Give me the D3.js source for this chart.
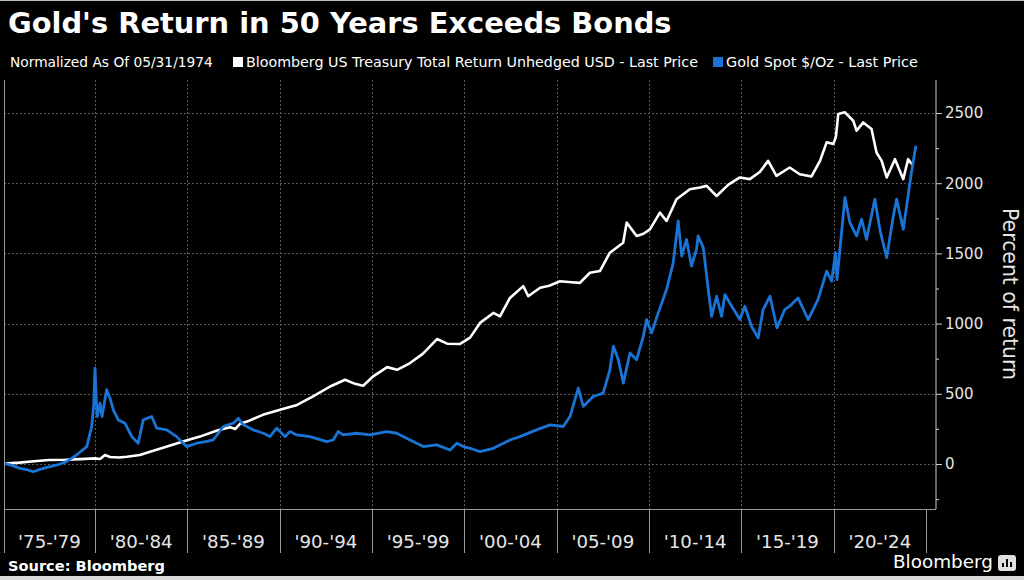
<!DOCTYPE html>
<html><head><meta charset="utf-8">
<script src="https://cdn.jsdelivr.net/npm/d3@7"></script>
<style>html,body{margin:0;padding:0;background:#fff;}svg{display:block;}</style>
</head><body>
<svg id="chart" width="1024" height="580"></svg>
<script>
// ---------- data ----------
const titleText = "Gold's Return in 50 Years Exceeds Bonds";
const subtitleText = "Normalized As Of 05/31/1974";
const seriesNames = ["Bloomberg US Treasury Total Return Unhedged USD - Last Price", "Gold Spot $/Oz - Last Price"];
const seriesColors = ["#ffffff", "#1a74d6"];
const periodStarts = [1975, 1980, 1985, 1990, 1995, 2000, 2005, 2010, 2015, 2020];
const periodLabels = ["'75-'79", "'80-'84", "'85-'89", "'90-'94", "'95-'99", "'00-'04", "'05-'09", "'10-'14", "'15-'19", "'20-'24"];
const yMajorTicks = [0, 500, 1000, 1500, 2000, 2500];
const yMinorTicks = [-250, 250, 750, 1250, 1750, 2250];

const treasuryYears = [1975.0, 1975.9, 1976.7, 1977.5, 1978.4, 1979.2, 1980.0, 1980.27, 1980.54, 1980.81, 1981.3, 1981.73, 1982.43, 1982.98, 1983.9, 1984.76, 1985.68, 1986.61, 1987.31, 1987.6, 1987.85, 1988.23, 1989.09, 1990.02, 1990.94, 1991.81, 1992.73, 1993.54, 1994.08, 1994.52, 1995.06, 1995.82, 1996.36, 1997.06, 1997.76, 1998.52, 1999.07, 1999.77, 2000.31, 2000.85, 2001.57, 2001.93, 2002.47, 2003.19, 2003.46, 2004.1, 2004.6, 2005.18, 2005.8, 2006.26, 2006.8, 2007.34, 2007.88, 2008.6, 2008.79, 2009.33, 2009.7, 2010.05, 2010.59, 2010.95, 2011.49, 2012.21, 2012.76, 2013.12, 2013.66, 2014.3, 2014.92, 2015.46, 2016.0, 2016.45, 2016.9, 2017.62, 2018.16, 2018.8, 2019.26, 2019.62, 2019.98, 2020.12, 2020.25, 2020.61, 2021.06, 2021.24, 2021.6, 2022.05, 2022.32, 2022.6, 2022.87, 2023.32, 2023.77, 2024.03, 2024.3];
const treasuryValues = [2, 10, 20, 28, 30, 35, 40, 36, 64, 50, 46, 52, 64, 88, 124, 160, 195, 238, 262, 250, 286, 302, 350, 386, 421, 481, 552, 600, 571, 557, 624, 690, 671, 719, 786, 890, 857, 855, 900, 1005, 1076, 1052, 1183, 1267, 1195, 1255, 1270, 1302, 1295, 1290, 1362, 1374, 1505, 1576, 1719, 1624, 1640, 1671, 1790, 1731, 1886, 1957, 1969, 1981, 1909, 1990, 2041, 2029, 2080, 2159, 2052, 2112, 2064, 2048, 2159, 2291, 2279, 2330, 2493, 2505, 2445, 2374, 2433, 2386, 2219, 2159, 2041, 2171, 2029, 2171, 2124];

const goldYears = [1975.02, 1975.5, 1975.94, 1976.3, 1976.66, 1977.1, 1977.56, 1978.0, 1978.45, 1979.0, 1979.55, 1979.82, 1979.93, 1980.0, 1980.06, 1980.12, 1980.27, 1980.38, 1980.63, 1980.81, 1980.99, 1981.26, 1981.62, 1981.99, 1982.34, 1982.61, 1983.07, 1983.34, 1983.88, 1984.42, 1984.96, 1985.51, 1986.0, 1986.4, 1986.95, 1987.49, 1987.76, 1988.03, 1988.57, 1989.11, 1989.47, 1989.84, 1990.29, 1990.56, 1990.92, 1991.64, 1992.55, 1992.9, 1993.17, 1993.44, 1994.17, 1994.89, 1995.8, 1996.34, 1997.06, 1997.78, 1998.5, 1999.23, 1999.59, 1999.95, 2000.31, 2000.85, 2001.57, 2002.47, 2003.01, 2003.91, 2004.64, 2005.36, 2005.72, 2006.17, 2006.44, 2006.98, 2007.52, 2007.88, 2008.07, 2008.34, 2008.61, 2008.97, 2009.33, 2009.69, 2009.87, 2010.14, 2010.5, 2010.95, 2011.31, 2011.58, 2011.77, 2012.03, 2012.3, 2012.57, 2012.66, 2012.94, 2013.21, 2013.39, 2013.66, 2013.93, 2014.11, 2014.48, 2014.92, 2015.19, 2015.55, 2015.91, 2016.18, 2016.55, 2016.93, 2017.35, 2017.62, 2018.07, 2018.62, 2019.15, 2019.62, 2019.89, 2020.1, 2020.18, 2020.61, 2020.88, 2021.24, 2021.51, 2021.78, 2022.23, 2022.5, 2022.87, 2023.23, 2023.41, 2023.77, 2024.03, 2024.21, 2024.45];
const goldValues = [7, -10, -31, -40, -55, -35, -19, -5, 17, 64, 124, 267, 420, 683, 480, 338, 433, 338, 529, 469, 386, 314, 291, 195, 148, 314, 338, 255, 243, 195, 124, 148, 160, 171, 267, 291, 326, 279, 243, 219, 195, 255, 195, 231, 207, 195, 159, 171, 231, 207, 219, 207, 231, 219, 171, 124, 136, 100, 148, 124, 112, 88, 112, 171, 195, 243, 279, 267, 338, 541, 410, 481, 505, 671, 838, 743, 576, 791, 743, 909, 1029, 934, 1076, 1243, 1433, 1731, 1481, 1600, 1410, 1529, 1624, 1541, 1243, 1052, 1195, 1052, 1207, 1124, 1029, 1124, 981, 898, 1100, 1195, 969, 1100, 1124, 1183, 1029, 1171, 1374, 1302, 1505, 1314, 1898, 1719, 1624, 1743, 1600, 1886, 1671, 1469, 1767, 1886, 1671, 1910, 2076, 2266];

// ---------- layout ----------
const W = 1024, H = 580;
const plotLeft = 4, plotRight = 936, plotTop = 80, plotBottom = 509, bandBottom = 553;
const FONT = "DejaVu Sans";

const svg = d3.select("#chart");
svg.append("rect").attr("x", 0).attr("y", 0).attr("width", W).attr("height", H).attr("fill", "#000");
svg.append("line").attr("x1", 0).attr("x2", W).attr("y1", 0.5).attr("y2", 0.5).attr("stroke", "#bdbdbd");
svg.append("rect").attr("x", 0).attr("y", 576).attr("width", W).attr("height", 4).attr("fill", "#d9d9d9");

const x = d3.scaleLinear().domain([1975, 2025]).range([2.7, 926]);
const y = d3.scaleLinear().domain([0, 2500]).range([464, 113]);

function fit(sel, target) {
  const len = sel.node().getComputedTextLength();
  const fs = parseFloat(sel.attr("font-size"));
  sel.attr("font-size", (fs * target / len).toFixed(2));
}

// ---------- title & legend ----------
const title = svg.append("text").attr("x", 8).attr("y", 33).attr("fill", "#fff")
  .attr("font-family", FONT).attr("font-weight", "bold").attr("font-size", 29).text(titleText);
fit(title, 664);

const sub = svg.append("text").attr("x", 10).attr("y", 67).attr("fill", "#fff")
  .attr("font-family", FONT).attr("font-size", 14).text(subtitleText);
fit(sub, 203);

const legendX = [233, 713];
const legendW = [452, 192];
seriesNames.forEach((n, i) => {
  svg.append("rect").attr("x", legendX[i]).attr("y", 57).attr("width", 10).attr("height", 10).attr("fill", seriesColors[i]);
  const t = svg.append("text").attr("x", legendX[i] + 13).attr("y", 67).attr("fill", "#fff")
    .attr("font-family", FONT).attr("font-size", 14).text(n);
  fit(t, legendW[i]);
});

// ---------- grid ----------
const grid = svg.append("g").attr("stroke", "#5a5a5a").attr("stroke-width", 1).attr("stroke-dasharray", "2,2");
grid.selectAll("line.h").data(yMajorTicks).join("line").attr("class", "h")
  .attr("x1", plotLeft).attr("x2", plotRight)
  .attr("y1", d => Math.round(y(d)) + 0.5).attr("y2", d => Math.round(y(d)) + 0.5);
grid.selectAll("line.v").data(periodStarts.slice(1)).join("line").attr("class", "v")
  .attr("y1", plotTop).attr("y2", plotBottom)
  .attr("x1", d => Math.round(x(d)) + 0.5).attr("x2", d => Math.round(x(d)) + 0.5);

// ---------- lines ----------
svg.append("clipPath").attr("id", "clip").append("rect")
  .attr("x", plotLeft).attr("y", plotTop).attr("width", plotRight - plotLeft).attr("height", plotBottom - plotTop);
const line = d3.line().x(d => x(d[0])).y(d => y(d[1]));
const treasury = treasuryYears.map((t, i) => [t, treasuryValues[i]]);
const gold = goldYears.map((t, i) => [t, goldValues[i]]);
const lg = svg.append("g").attr("clip-path", "url(#clip)");
lg.append("path").datum(treasury).attr("d", line).attr("fill", "none")
  .attr("stroke", seriesColors[0]).attr("stroke-width", 2.6).attr("stroke-linejoin", "round");
lg.append("path").datum(gold).attr("d", line).attr("fill", "none")
  .attr("stroke", seriesColors[1]).attr("stroke-width", 2.8).attr("stroke-linejoin", "round");

// ---------- y axis (right) ----------
const yAxisG = svg.append("g").attr("transform", `translate(${plotRight},0)`);
yAxisG.append("line").attr("x1", 0).attr("x2", 0).attr("y1", plotTop).attr("y2", plotBottom).attr("stroke", "#cfcfcf");
const major = yAxisG.append("g").call(d3.axisRight(y).tickValues(yMajorTicks).tickSize(6).tickPadding(3).tickFormat(d3.format("d")));
major.select(".domain").remove();
major.selectAll(".tick line").attr("stroke", "#cfcfcf");
major.selectAll(".tick text").attr("fill", "#e6e6e6").attr("font-family", FONT).attr("font-size", 15);
const minor = yAxisG.append("g").call(d3.axisRight(y).tickValues(yMinorTicks).tickSize(3).tickFormat(""));
minor.select(".domain").remove();
minor.selectAll(".tick line").attr("stroke", "#cfcfcf");

const yTitle = svg.append("text").attr("transform", "translate(1003,294) rotate(90)")
  .attr("text-anchor", "middle").attr("fill", "#e6e6e6").attr("font-family", FONT).attr("font-size", 20)
  .text("Percent of return");
fit(yTitle, 172);

// ---------- x axis band ----------
const xb = svg.append("g").attr("stroke", "#9a9a9a");
xb.append("line").attr("x1", plotLeft).attr("x2", plotRight).attr("y1", plotBottom + 0.5).attr("y2", plotBottom + 0.5);
xb.append("line").attr("x1", plotLeft + 0.5).attr("x2", plotLeft + 0.5).attr("y1", plotTop).attr("y2", bandBottom);
xb.selectAll("line.sep").data(periodStarts.slice(1).concat([2025])).join("line").attr("class", "sep")
  .attr("x1", d => Math.round(x(d)) + 0.5).attr("x2", d => Math.round(x(d)) + 0.5)
  .attr("y1", plotBottom).attr("y2", bandBottom);
svg.append("g").selectAll("text").data(periodStarts).join("text")
  .attr("x", (d, i) => i === 0 ? (plotLeft + x(1980)) / 2 : x(d + 2.5))
  .attr("y", 548).attr("text-anchor", "middle")
  .attr("fill", "#e6e6e6").attr("font-family", FONT).attr("font-size", 18.2)
  .text((d, i) => periodLabels[i]);

// ---------- footer ----------
const src = svg.append("text").attr("x", 8).attr("y", 571).attr("fill", "#fff")
  .attr("font-family", FONT).attr("font-weight", "bold").attr("font-size", 14.6).text("Source: Bloomberg");
fit(src, 157);
const logo = svg.append("text").attr("x", 893).attr("y", 568).attr("fill", "#fff")
  .attr("font-family", FONT).attr("font-size", 18).text("Bloomberg");
fit(logo, 100);
const icon = svg.append("g").attr("transform", "translate(998,555)");
icon.append("rect").attr("width", 18).attr("height", 16).attr("rx", 3).attr("fill", "#e0e0e0");
[[4, 8], [8, 4], [12, 7]].forEach(([bx, by]) => {
  icon.append("rect").attr("x", bx).attr("y", by).attr("width", 2).attr("height", 12 - by).attr("fill", "#000");
});
</script>
</body></html>
